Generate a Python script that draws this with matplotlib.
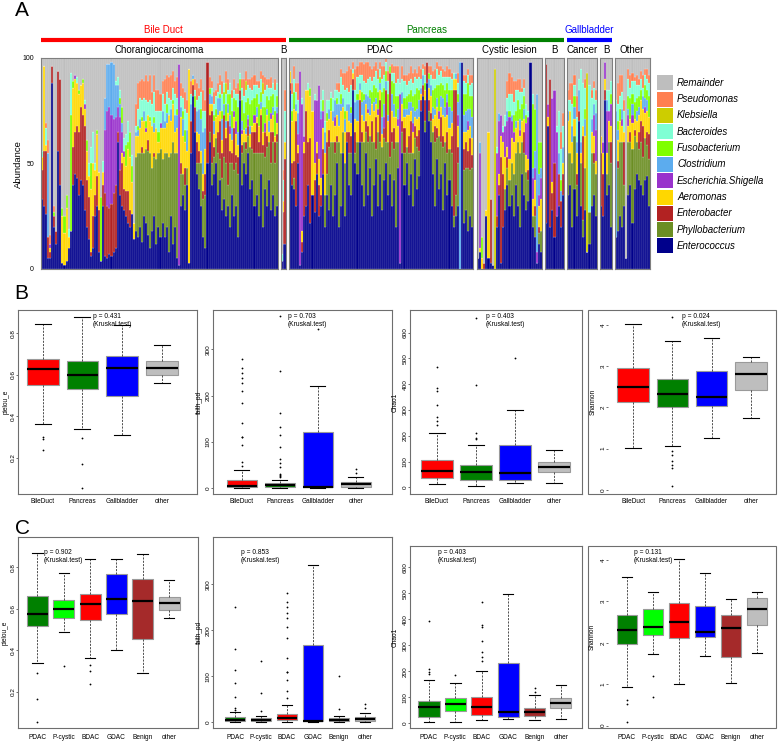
import numpy as np
import matplotlib
matplotlib.use("Agg")
import matplotlib.pyplot as plt
from matplotlib.patches import Rectangle
from matplotlib.lines import Line2D

plt.rcParams['font.family'] = ['Liberation Sans', 'DejaVu Sans']

W, H = 780, 742

# ---------------- panel A data ----------------
taxa = ["Enterococcus", "Phyllobacterium", "Enterobacter", "Aeromonas",
        "Escherichia.Shigella", "Clostridium", "Fusobacterium", "Bacteroides",
        "Klebsiella", "Pseudomonas", "Remainder"]
taxa_colors = ["#00008B", "#6B8E23", "#B22222", "#FFD700", "#9932CC", "#5CACEE",
               "#7FFF00", "#7FFFD4", "#CDCD00", "#FF7F50", "#BEBEBE"]

# abundance (%) per sample, columns follow taxa[:10]; Remainder fills up to 100
chorangio = """
33 0 14 6 0 0 0 3 0 0
30 0 26 40 0 0 0 0 0 0
26 0 30 3 0 0 0 8 0 2
5 0 10 0 0 40 0 0 0 6
5 0 3 2 2 0 0 0 0 4
88 0 8 0 0 0 0 0 0 0
20 0 5 0 0 0 2 0 0 3
12 0 6 0 0 0 0 0 0 0
56 0 38 0 0 0 0 0 0 0
40 0 50 0 0 0 0 0 0 0
3 0 0 22 0 0 4 0 0 0
2 0 0 15 0 0 8 0 0 0
4 0 0 25 0 0 6 0 0 0
10 0 0 5 0 0 0 4 0 0
18 0 0 0 0 0 55 20 0 0
40 0 18 28 0 0 3 0 0 0
45 0 20 25 2 0 0 0 0 0
43 0 25 20 0 0 0 3 0 0
35 0 30 18 0 0 2 0 0 0
42 0 35 10 0 0 0 0 0 0
40 0 33 15 0 0 2 0 0 0
28 0 40 8 2 0 0 2 0 0
20 0 22 14 0 0 5 0 0 0
14 0 20 10 0 0 0 6 0 0
6 0 2 30 0 0 12 8 0 0
10 0 15 25 0 0 0 15 0 0
25 0 10 12 0 0 0 3 0 0
30 0 14 20 0 0 2 0 0 0
8 0 20 18 0 0 0 0 0 0
4 0 0 0 0 0 30 0 0 0
30 0 10 6 0 0 0 5 0 0
6 0 30 0 30 15 0 0 0 0
5 0 25 0 45 22 0 0 0 0
7 0 22 0 48 20 0 0 0 0
6 0 25 0 42 25 0 0 0 0
8 0 28 0 35 26 0 0 0 0
10 0 30 0 32 15 0 2 0 0
60 0 5 0 12 10 0 4 0 0
35 0 12 0 25 6 3 4 0 0
30 0 20 5 10 4 8 0 0 0
28 0 10 15 3 0 0 6 0 0
25 0 12 12 0 0 10 5 0 0
22 0 15 20 0 0 3 10 0 0
20 0 8 25 0 0 12 0 0 0
26 0 0 15 0 0 8 5 0 0
14 0 0 8 0 0 0 0 0 0
18 35 0 10 0 2 0 3 0 10
15 40 0 8 0 3 2 8 0 12
20 35 0 12 0 4 0 10 0 8
13 42 3 12 0 0 2 8 0 10
25 30 0 15 0 5 0 6 0 8
22 35 0 8 2 0 3 10 0 12
16 40 5 12 0 0 0 6 0 10
10 45 0 15 0 0 2 8 0 12
18 30 0 20 0 0 0 10 0 6
25 28 2 10 0 4 3 12 0 8
12 40 0 15 0 0 0 8 0 10
20 35 0 5 0 0 5 10 0 10
15 42 0 10 2 0 0 6 0 8
22 30 0 15 0 8 0 8 0 6
15 40 0 12 0 3 0 8 0 12
20 35 0 14 0 5 4 6 0 8
8 45 0 20 0 0 0 8 0 10
25 30 0 15 0 6 0 4 0 12
12 48 0 18 0 0 2 6 0 8
20 35 0 10 0 8 0 10 0 6
5 50 0 12 0 6 3 5 0 10
2 0 0 0 95 0 0 0 0 0
30 15 5 22 0 5 0 5 0 6
35 10 0 18 0 8 4 6 0 5
28 12 8 12 0 0 6 10 0 8
40 8 0 8 0 10 0 8 0 6
3 0 0 92 0 0 0 0 0 0
55 0 15 0 0 8 0 5 0 6
82 0 5 3 0 2 0 0 0 0
65 0 12 0 0 0 5 3 0 5
45 5 10 5 0 10 0 5 0 8
38 12 6 8 0 12 0 6 0 4
30 20 0 6 0 15 5 8 0 6
15 18 4 8 0 20 0 10 0 10
10 25 10 12 0 10 0 8 0 5
50 0 48 0 0 0 0 0 0 0
60 5 8 5 0 5 3 0 0 5
40 10 25 3 0 4 0 4 0 3
45 8 5 6 0 6 3 5 0 6
50 12 0 10 0 0 4 6 0 3
35 20 10 8 0 8 0 3 0 4
42 10 18 5 0 6 2 4 0 5
28 15 12 6 0 10 4 8 0 6
33 20 20 0 0 5 6 4 0 0
25 25 12 5 0 3 8 5 5 6
30 10 30 4 0 4 5 2 0 5
20 30 6 8 4 5 10 5 0 0
35 15 5 6 0 6 8 6 0 4
25 22 20 5 3 0 6 4 0 5
30 20 4 10 6 0 10 3 0 3
15 30 8 6 0 6 12 6 0 5
80 0 5 0 0 0 5 3 0 0
40 15 4 5 2 4 10 6 0 4
50 10 0 6 0 0 8 8 0 8
45 12 3 4 0 3 12 6 4 5
55 8 5 0 3 2 8 6 0 3
38 20 0 6 0 4 10 8 0 4
42 15 8 3 0 0 12 5 0 6
30 25 10 4 4 0 8 6 0 5
35 20 14 3 0 5 6 4 0 2
25 30 5 8 0 0 10 8 0 3
45 10 18 3 0 3 5 6 0 4
20 35 4 6 0 0 12 6 5 4
38 15 12 0 4 0 8 8 0 6
30 28 5 10 0 3 6 5 0 3
42 18 0 5 0 5 10 6 0 4
28 22 15 6 3 0 8 4 0 5
35 25 5 8 0 4 6 5 0 0
25 25 10 3 0 0 12 10 0 5
30 30 4 5 5 3 5 6 0 0
"""

bd_benign = """
4 0 0 0 0 0 0 3 0 0
12 0 15 5 0 0 0 10 0 5
12 0 40 8 0 0 0 15 0 10
"""

pdac = """
85 0 3 6 0 0 0 0 0 0
40 0 10 20 0 0 5 8 0 5
38 5 8 25 0 0 8 6 0 6
30 0 40 5 0 3 0 6 0 4
50 0 5 4 5 10 0 6 0 8
2 0 0 0 92 0 0 0 0 0
8 0 5 5 60 0 0 3 0 0
25 0 30 5 3 0 0 0 0 0
30 0 45 10 0 0 0 0 0 0
40 0 20 25 0 0 0 3 0 0
22 0 40 20 0 0 4 0 0 0
35 0 0 40 0 0 0 0 0 0
27 0 15 8 30 0 0 3 0 0
45 0 10 5 20 0 0 0 0 0
25 0 15 12 35 0 0 0 0 0
30 0 5 8 28 4 0 5 0 0
45 0 12 10 8 0 5 5 0 0
20 15 0 20 0 10 0 5 0 0
35 10 15 10 0 0 4 6 0 0
28 30 8 5 0 5 0 4 0 0
40 20 0 15 0 0 6 3 0 0
25 35 0 10 0 5 0 6 0 0
35 20 5 8 4 8 0 5 0 0
50 10 3 10 0 5 3 4 0 3
20 40 0 8 0 10 0 6 0 4
30 25 0 20 0 3 5 8 0 4
55 10 0 12 0 4 0 6 0 6
25 25 0 15 0 6 4 10 0 8
60 0 5 10 0 3 0 8 0 8
40 15 10 5 0 8 0 6 0 12
35 20 8 6 0 5 3 10 0 8
85 0 5 3 0 0 0 2 0 3
50 5 10 6 0 8 0 6 0 10
45 15 0 10 0 10 3 8 0 5
60 0 20 5 0 3 0 4 0 6
40 20 5 8 0 6 5 8 0 6
30 30 0 10 0 10 3 6 0 8
55 10 5 8 0 5 0 5 0 10
35 25 8 6 2 6 0 8 0 8
48 15 0 10 0 8 4 6 0 5
25 35 10 8 0 0 6 5 0 6
40 20 0 15 0 4 8 4 0 5
52 5 15 6 0 3 5 8 0 4
30 35 0 8 3 0 8 6 0 5
45 15 20 5 0 3 3 4 0 3
28 30 0 6 0 8 12 6 0 6
42 20 5 0 5 6 8 6 0 4
50 10 25 0 0 4 5 4 0 2
35 25 0 10 0 3 10 6 0 5
45 8 40 0 0 0 3 0 0 0
30 30 5 10 0 8 6 4 0 4
42 15 10 5 0 6 10 5 0 3
20 40 0 12 0 0 10 6 0 8
48 12 0 8 3 5 6 8 0 6
3 0 0 0 80 0 0 5 0 0
55 10 5 8 0 6 0 6 0 6
40 15 12 5 0 4 5 8 0 3
50 8 0 15 0 3 6 5 0 5
35 20 8 10 0 6 4 6 0 4
45 10 15 5 0 4 6 5 0 6
30 25 0 10 4 8 5 6 0 5
52 10 6 4 0 3 8 8 0 4
38 20 5 8 0 5 10 4 0 3
44 12 10 6 0 8 5 6 0 5
75 0 5 3 0 3 0 4 0 5
82 0 5 0 0 5 0 3 0 2
65 5 10 5 0 0 3 4 0 4
88 0 10 0 0 0 0 0 0 0
70 5 5 6 0 4 3 0 0 3
60 10 4 8 0 5 0 5 0 4
45 20 0 6 0 6 8 5 0 4
30 30 8 5 0 3 10 4 0 5
52 10 5 10 0 4 6 8 0 3
38 25 0 8 4 0 12 5 0 4
45 15 12 5 0 5 6 6 0 2
28 30 5 10 0 8 6 4 0 4
50 10 0 12 0 5 8 6 0 3
35 20 10 8 6 4 5 3 0 5
42 15 0 10 0 10 8 6 0 4
30 25 8 6 0 6 10 5 0 3
20 5 60 5 0 0 0 3 0 0
25 10 50 5 0 3 0 0 0 0
30 20 8 10 5 6 4 5 0 5
0 0 0 0 0 98 0 0 0 0
98 0 0 0 0 0 0 0 0 0
22 25 10 8 0 8 10 6 0 3
28 20 12 5 0 10 8 5 0 4
18 30 8 10 4 6 12 4 0 3
25 22 15 6 0 8 6 5 0 5
20 28 6 8 0 10 10 6 0 4
"""

cystic = """
5 0 0 0 0 0 0 0 0 0
8 0 0 2 45 5 0 0 0 0
0 0 0 5 0 0 10 0 0 0
0 0 3 0 0 0 0 0 0 0
25 0 0 3 0 0 0 0 0 0
5 0 0 60 0 0 0 0 0 0
3 0 30 0 0 0 0 0 0 0
2 0 0 0 0 0 0 0 0 0
0 0 0 0 0 0 0 0 95 0
20 0 5 0 30 0 0 3 0 0
35 0 5 5 25 4 0 0 0 0
3 0 50 10 10 0 0 0 0 0
20 0 25 15 5 0 0 3 0 0
28 10 0 15 15 0 0 5 0 0
40 8 5 5 12 5 0 6 0 8
30 12 0 10 20 0 3 8 0 10
35 15 0 12 8 3 0 10 0 8
25 20 0 15 5 0 8 6 0 10
40 15 0 12 0 3 5 10 0 4
30 30 0 10 0 0 10 5 0 5
20 35 0 8 3 5 5 8 0 6
45 15 0 10 0 0 8 6 0 2
35 20 10 6 0 5 6 4 0 4
28 18 0 8 15 0 4 5 0 0
32 10 5 5 20 0 0 3 0 0
98 0 0 0 0 0 0 0 0 0
20 5 0 8 10 5 30 5 0 0
15 10 5 12 6 8 20 0 0 0
3 0 0 0 5 75 0 0 0 0
12 5 3 10 5 10 15 0 0 0
8 10 0 15 10 5 12 0 0 0
"""

panc_benign = """
22 0 75 0 0 0 0 0 0 0
68 0 0 4 6 0 0 0 0 0
20 0 70 0 0 0 0 0 0 0
28 0 8 5 40 0 0 0 0 0
15 0 35 0 35 0 0 0 0 0
25 0 0 0 40 0 0 3 0 0
30 0 15 0 0 10 0 20 0 0
20 0 12 0 0 5 5 15 0 8
35 0 10 5 0 8 0 10 0 6
"""

gb_cancer = """
35 20 0 15 0 5 0 5 0 5
40 15 0 20 0 0 0 5 0 8
20 30 0 10 0 8 0 10 0 10
38 25 0 8 0 6 5 5 0 5
25 15 5 10 0 5 0 12 0 10
70 0 5 0 0 10 0 5 0 0
30 20 0 5 0 5 0 35 0 0
15 8 40 5 0 0 0 20 0 0
28 20 0 15 0 8 5 10 0 4
8 0 0 0 0 0 0 0 85 0
12 15 0 0 0 0 0 60 0 0
30 25 0 10 0 6 0 10 0 4
35 15 5 8 10 5 0 8 0 3
25 20 0 6 15 8 0 6 0 5
"""

gb_benign = """
30 0 25 8 0 0 0 0 0 0
25 0 20 10 5 0 0 0 0 0
80 0 5 5 8 0 0 0 0 0
35 10 0 10 20 5 0 5 0 0
40 20 0 10 5 0 0 10 0 0
20 30 10 8 10 0 5 6 0 0
"""

other = """
15 0 0 0 0 60 0 5 0 0
18 30 3 10 0 5 4 8 0 10
25 35 0 10 0 0 6 6 0 10
20 40 0 8 3 5 0 8 0 8
30 10 20 5 0 0 0 10 0 5
5 0 0 0 0 0 0 0 0 0
35 25 0 8 5 3 6 8 0 5
40 20 5 6 0 0 10 5 0 6
22 35 0 12 4 5 5 6 0 4
38 25 3 5 0 0 8 10 0 2
45 15 0 10 0 5 6 6 0 5
42 15 8 8 0 4 5 5 0 3
40 20 10 10 0 0 5 5 0 4
35 18 15 8 0 6 0 4 0 6
42 20 0 12 3 4 6 5 0 3
44 15 6 10 0 5 5 5 0 5
30 22 12 8 0 0 10 6 0 4
"""

sub_labels = ["Chorangiocarcinoma", "B", "PDAC", "Cystic lesion", "B", "Cancer", "B", "Other"]
sub_tables = [chorangio, bd_benign, pdac, cystic, panc_benign, gb_cancer, gb_benign, other]

# ---------------- panels B / C data: (whislo, q1, median, q3, whishi) ----------------
b_groups = ["BileDuct", "Pancreas", "Gallbladder", "other"]
b_colors = ["#FF0000", "#008000", "#0000FF", "#BEBEBE"]
c_groups = ["PDAC", "P-cystic", "BDAC", "GDAC", "Benign", "other"]
c_colors = ["#008000", "#00FF00", "#FF0000", "#0000FF", "#A52A2A", "#BEBEBE"]

pielou_b = [(0.361, 0.55, 0.627, 0.676, 0.845), (0.337, 0.53, 0.598, 0.668, 0.877),
            (0.308, 0.498, 0.632, 0.692, 0.84), (0.561, 0.598, 0.632, 0.665, 0.744)]
pielou_b_out = [[0.30, 0.29, 0.24], [0.297, 0.168, 0.055], [], []]
faith_b = [(0, 1.5, 5, 17, 38), (0, 3, 6, 11, 17), (0, 1.5, 2, 122, 220), (1, 3, 8, 12, 23)]
faith_b_out = [[48, 56, 93, 110, 111, 140, 184, 210, 227, 238, 249, 260, 280],
               [23, 27, 28, 30, 45, 54, 63, 88, 115, 132, 162, 253, 372], [343], [32, 41]]
chao_b = [(13, 35, 64, 105, 209), (4, 30, 58, 88, 165), (18, 27, 54, 165, 299), (15, 58, 77, 99, 146)]
chao_b_out = [[241, 256, 273, 320, 375, 385, 465], [188, 192, 211, 396, 658], [500], []]
shannon_b = [(1.01, 2.12, 2.5, 2.96, 4.02), (1.06, 2.02, 2.33, 2.69, 3.6),
             (1.25, 2.04, 2.24, 2.88, 3.68), (1.75, 2.42, 2.81, 3.09, 3.22)]
shannon_b_out = [[], [0.94, 0.84, 0.70, 0.61, 0.54, 0.1, 4.2], [], []]

pielou_c = [(0.341, 0.519, 0.578, 0.662, 0.872), (0.49, 0.556, 0.60, 0.643, 0.771),
            (0.362, 0.545, 0.625, 0.673, 0.84), (0.40, 0.577, 0.649, 0.768, 0.84),
            (0.29, 0.453, 0.64, 0.744, 0.866), (0.556, 0.595, 0.63, 0.66, 0.74)]
pielou_c_out = [[0.293, 0.164, 0.054], [0.326], [0.33, 0.30, 0.24], [], [], []]
faith_c = [(0, 2, 5, 10, 22), (0, 2, 4, 9, 14), (0, 4, 9, 18, 38), (0, 1.5, 2, 167, 341),
           (0, 2, 5, 9, 14), (1, 2, 6, 10, 20)]
faith_c_out = [[27, 30, 54, 86, 114, 160, 251], [25, 64, 132],
               [52, 67, 92, 108, 109, 139, 182, 208, 226, 238, 251, 262, 280], [], [28, 100], [30, 40]]
chao_c = [(5, 23, 61, 86, 165), (6, 47, 74, 96, 156), (12, 33, 64, 101, 203),
          (18, 23, 45, 231, 496), (14, 28, 45, 60, 109), (15, 58, 78, 98, 147)]
chao_c_out = [[190, 196, 210, 395], [184], [238, 257, 276, 318, 370, 378, 465], [], [119, 137], []]
shannon_c = [(0.94, 1.96, 2.31, 2.67, 3.6), (1.73, 2.19, 2.38, 2.81, 3.22),
             (1.01, 2.11, 2.51, 2.96, 4.02), (1.69, 2.14, 2.25, 2.88, 3.68),
             (1.04, 1.65, 2.35, 2.67, 3.05), (1.75, 2.43, 2.81, 3.08, 3.22)]
shannon_c_out = [[0.61, 0.53, 0.09], [1.19, 0.69], [], [], [], []]

p_b = ["0.431", "0.703", "0.403", "0.024"]
p_c = ["0.902", "0.853", "0.403", "0.131"]


fig = plt.figure(figsize=(W / 100, H / 100), dpi=100)


def px_axes(x0, y0, x1, y1):
    return fig.add_axes([x0 / W, 1 - y1 / H, (x1 - x0) / W, (y1 - y0) / H])


def ftext(x, y, s, **kw):
    fig.text(x / W, 1 - y / H, s, **kw)


# ---------------- panel A ----------------
ftext(22, 11, "A", fontsize=15, ha="center", va="center")
sub_x = [(41, 278), (281, 286), (289, 473), (477, 542), (545, 564), (567, 597), (600, 612), (615, 650)]
sub_cx = [159, 283, 380, 509, 554, 582, 606, 632]

for i, ((x0, x1), tab) in enumerate(zip(sub_x, sub_tables)):
    d = np.array(tab.split(), dtype=float).reshape(-1, 10)
    vals = np.column_stack([d, 100 - d.sum(axis=1)])
    n = len(vals)
    ax = px_axes(x0, 58, x1, 269)
    x = np.arange(n) + 0.5
    bottom = np.zeros(n)
    for j, col in enumerate(taxa_colors):
        ax.bar(x, vals[:, j], 1.0, bottom=bottom, color=col, edgecolor="white", linewidth=0.12)
        bottom += vals[:, j]
    ax.set_xlim(0, n)
    ax.set_ylim(0, 100)
    ax.set_xticks([])
    if i == 0:
        ax.set_yticks([0, 50, 100])
        ax.tick_params(axis="y", length=0, labelsize=5, pad=5)
    else:
        ax.set_yticks([])
    for s in ax.spines.values():
        s.set_color("#7f7f7f")
        s.set_linewidth(0.8)
    ftext(sub_cx[i], 50, sub_labels[i], fontsize=7, ha="center", va="center")

ftext(18, 164, "Abundance", fontsize=6.8, rotation=90, ha="center", va="center")

headers = [("Bile Duct", "#FF0000", 41, 286, 163), ("Pancreas", "#008000", 289, 564, 427),
           ("Gallbladder", "#0000FF", 567, 612, 589)]
for lab, col, x0, x1, cx in headers:
    fig.add_artist(Line2D([x0 / W, x1 / W], [1 - 39.5 / H] * 2, color=col, lw=3, solid_capstyle="butt"))
    ftext(cx, 30, lab, fontsize=7, color=col, ha="center", va="center")

# legend, top to bottom
for k, j in enumerate(range(10, -1, -1)):
    top = 75.4 + k * 16.3
    fig.add_artist(Rectangle((657 / W, 1 - (top + 15) / H), 16 / W, 15 / H,
                             transform=fig.transFigure, facecolor=taxa_colors[j], edgecolor="none"))
    ftext(677, top + 7.5, taxa[j], fontsize=7, style="italic", ha="left", va="center")


# ---------------- panels B / C ----------------
def box_panel(rect, frame_x0, stats5, outs, groups, colors, ylab, ylab_x, yticks, ylim, xlim,
              pval, ptxt_x, ptxt_y, xlab_pad):
    x0, y0, x1, y1 = rect
    ax = px_axes(x0, y0, x1, y1)
    stats = []
    for (lo, q1, med, q3, hi), fl, g in zip(stats5, outs, groups):
        stats.append(dict(whislo=lo, q1=q1, med=med, q3=q3, whishi=hi, fliers=fl, label=g))
    bp = ax.bxp(stats, positions=range(1, len(stats) + 1), widths=0.8, patch_artist=True,
                capwidths=0.4,
                boxprops=dict(edgecolor="#9a9a9a", linewidth=0.8),
                whiskerprops=dict(color="#333333", linestyle=(0, (2.5, 1.5)), linewidth=0.6),
                capprops=dict(color="black", linewidth=0.8),
                medianprops=dict(color="black", linewidth=1.6),
                flierprops=dict(marker="o", markersize=1.3, markerfacecolor="black",
                                markeredgewidth=0, linestyle="none"))
    for patch, c in zip(bp["boxes"], colors):
        patch.set_facecolor(c)
    ax.set_xlim(*xlim)
    ax.set_ylim(*ylim)
    ax.set_yticks(yticks)
    ax.set_yticklabels([str(t) for t in yticks], rotation=90, va="center")
    ax.tick_params(axis="y", length=1.2, width=0.6, labelsize=4.6, pad=0.3, color="#555555")
    ax.tick_params(axis="x", length=0, labelsize=4.7, pad=xlab_pad)
    for s in ax.spines.values():
        s.set_color("#6e6e6e")
        s.set_linewidth(0.8)
    if frame_x0 is not None:
        for s in ax.spines.values():
            s.set_visible(False)
        fig.add_artist(Rectangle((frame_x0 / W, 1 - y1 / H), (x1 - frame_x0) / W, (y1 - y0) / H,
                                 transform=fig.transFigure, facecolor="none",
                                 edgecolor="#6e6e6e", linewidth=0.8))
    ftext(ylab_x, (y0 + y1) / 2, ylab, fontsize=4.7, rotation=90, ha="center", va="center")
    ftext(ptxt_x, ptxt_y, "p = " + pval, fontsize=4.8, ha="left", va="center")
    ftext(ptxt_x, ptxt_y + 8, "(Kruskal.test)", fontsize=4.8, ha="left", va="center")


ftext(21, 293, "B", fontsize=15, ha="center", va="center")
ftext(22, 529, "C", fontsize=15, ha="center", va="center")

t_pie = [0.2, 0.4, 0.6, 0.8]
t_fai = [0, 100, 200, 300]
t_cha = [0, 100, 200, 300, 400, 500, 600]
t_sha = [0, 1, 2, 3, 4]

box_panel((18, 310, 197, 494), None, pielou_b, pielou_b_out, b_groups, b_colors, "pielou_e", 6,
          t_pie, (0.026, 0.911), (0.38, 4.88), p_b[0], 93, 316, 3)
box_panel((213, 310, 392, 494), None, faith_b, faith_b_out, b_groups, b_colors, "faith_pd", 199,
          t_fai, (-13, 385), (0.24, 4.95), p_b[1], 288, 316, 3)
box_panel((410, 310, 582, 494), None, chao_b, chao_b_out, b_groups, b_colors, "Chao1", 395,
          t_cha, (-26, 688), (0.31, 4.72), p_b[2], 486, 316, 3)
box_panel((608, 310, 776, 494), 588, shannon_b, shannon_b_out, b_groups, b_colors, "Shannon", 593,
          t_sha, (-0.1, 4.36), (0.36, 4.64), p_b[3], 682, 316, 3)

box_panel((18, 537, 198, 728), None, pielou_c, pielou_c_out, c_groups, c_colors, "pielou_e", 5,
          t_pie, (0.026, 0.947), (0.26, 7.1), p_c[0], 44, 552, 4)
box_panel((213, 537, 392, 728), None, faith_c, faith_c_out, c_groups, c_colors, "faith_pd", 199,
          t_fai, (-13, 403), (0.15, 7.04), p_c[1], 241, 552, 4)
box_panel((410, 546, 582, 728), None, chao_c, chao_c_out, c_groups, c_colors, "Chao1", 395,
          t_cha, (-18, 682), (0.28, 6.8), p_c[2], 438, 552, 4)
box_panel((608, 546, 776, 728), 588, shannon_c, shannon_c_out, c_groups, c_colors, "Shannon", 592,
          t_sha, (-0.06, 4.34), (0.27, 6.73), p_c[3], 634, 552, 4)

fig.savefig("out.png", dpi=100)
